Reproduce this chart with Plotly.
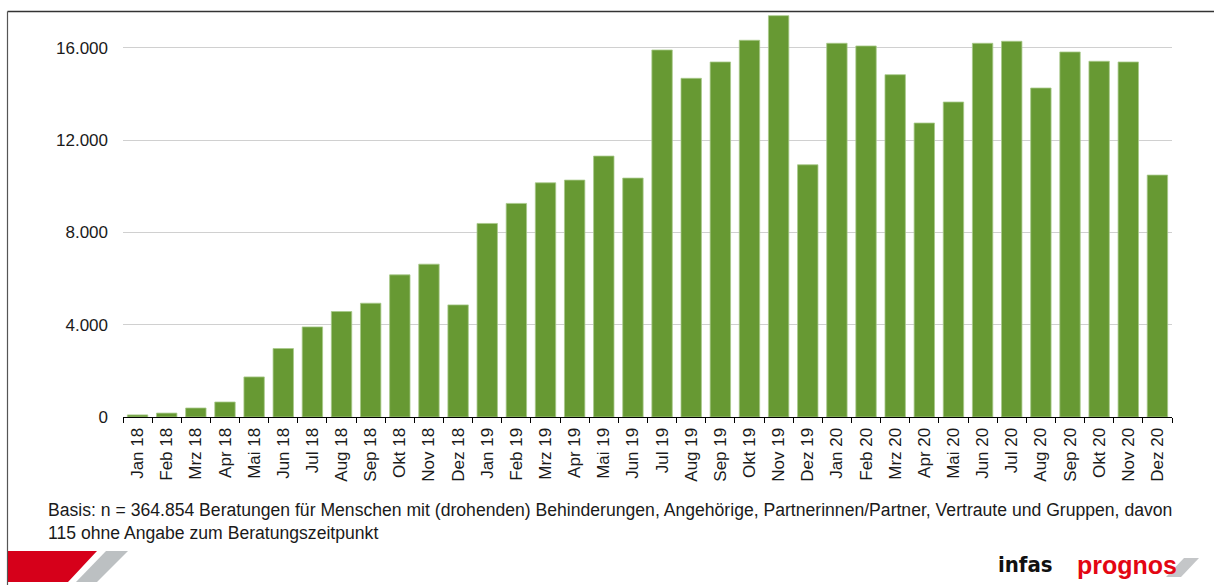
import plotly.graph_objects as go

months = ["Jan 18", "Feb 18", "Mrz 18", "Apr 18", "Mai 18", "Jun 18", "Jul 18", "Aug 18",
          "Sep 18", "Okt 18", "Nov 18", "Dez 18",
          "Jan 19", "Feb 19", "Mrz 19", "Apr 19", "Mai 19", "Jun 19", "Jul 19", "Aug 19",
          "Sep 19", "Okt 19", "Nov 19", "Dez 19",
          "Jan 20", "Feb 20", "Mrz 20", "Apr 20", "Mai 20", "Jun 20", "Jul 20", "Aug 20",
          "Sep 20", "Okt 20", "Nov 20", "Dez 20"]

beratungen = [90, 170, 390, 650, 1735, 2966, 3903, 4570, 4930, 6158, 6622, 4857,
              8386, 9254, 10147, 10264, 11305, 10351, 15902, 14674, 15382, 16322, 17389, 10928,
              16192, 16075, 14831, 12736, 13647, 16192, 16279, 14254, 15815, 15412, 15382, 10481]

y_ticks = [0, 4000, 8000, 12000, 16000]

footnote_1 = ("Basis: n = 364.854 Beratungen für Menschen mit (drohenden) Behinderungen, "
              "Angehörige, Partnerinnen/Partner, Vertraute und Gruppen, davon")
footnote_2 = "115 ohne Angabe zum Beratungszeitpunkt"

W, H = 1214, 585
ML, MR, MT, MB = 123, 42, 12, 168
PW, PH = W - ML - MR, H - MT - MB


def px(x):
    return (x - ML) / PW


def py(y):
    return (H - MB - y) / PH


FONT = "Liberation Sans, Arial, sans-serif"

fig = go.Figure()
fig.add_trace(go.Bar(
    x=months, y=beratungen,
    marker=dict(color="#679933", line=dict(color="#a8c98a", width=0.8)),
    hoverinfo="x+y",
))

shapes = [
    # frame lines
    dict(type="line", xref="paper", yref="paper", x0=px(7.5), x1=px(1214), y0=py(11.5), y1=py(11.5),
         line=dict(color="#333333", width=1.5)),
    dict(type="line", xref="paper", yref="paper", x0=px(7.5), x1=px(7.5), y0=py(11.5), y1=py(585),
         line=dict(color="#555555", width=1.2)),
    # red / grey logo bars bottom-left
    dict(type="path", xref="paper", yref="paper",
         path=f"M {px(8)} {py(551)} L {px(97)} {py(551)} L {px(68)} {py(582)} L {px(8)} {py(582)} Z",
         fillcolor="#d6001a", line=dict(width=0)),
    dict(type="path", xref="paper", yref="paper",
         path=f"M {px(106)} {py(551)} L {px(128)} {py(551)} L {px(97)} {py(582)} L {px(76)} {py(582)} Z",
         fillcolor="#bcc0c2", line=dict(width=0)),
    # prognos slash
    dict(type="path", xref="paper", yref="paper",
         path=f"M {px(1184)} {py(558)} L {px(1199)} {py(558)} L {px(1181)} {py(577)} L {px(1166)} {py(577)} Z",
         fillcolor="#c4c6c8", line=dict(width=0), layer="below"),
]

annotations = [
    dict(text=footnote_1, xref="paper", yref="paper", x=px(46), y=py(510), xanchor="left",
         yanchor="middle", showarrow=False, font=dict(family=FONT, size=17.6, color="#1a1a1a")),
    dict(text=footnote_2, xref="paper", yref="paper", x=px(46), y=py(533), xanchor="left",
         yanchor="middle", showarrow=False, font=dict(family=FONT, size=17.6, color="#1a1a1a")),
    dict(text="<b>infas</b>", xref="paper", yref="paper", x=px(996), y=py(564), xanchor="left",
         yanchor="middle", showarrow=False,
         font=dict(family="DejaVu Sans Condensed, Liberation Sans Narrow, sans-serif", size=22,
                   color="#111111")),
    dict(text="<b>prognos</b>", xref="paper", yref="paper", x=px(1075), y=py(565), xanchor="left",
         yanchor="middle", showarrow=False,
         font=dict(family=FONT, size=25, color="#e30613")),
]

fig.update_layout(
    width=W, height=H,
    margin=dict(l=ML, r=MR, t=MT, b=MB, autoexpand=False),
    paper_bgcolor="white", plot_bgcolor="white",
    bargap=0.30,
    separators=",.",
    showlegend=False,
    font=dict(family=FONT, size=17, color="#1a1a1a"),
    shapes=shapes,
    annotations=annotations,
)
fig.update_xaxes(
    type="category", showline=True, linecolor="#000000", linewidth=1,
    ticks="outside", tickson="boundaries", ticklen=5, tickcolor="#000000", tickwidth=1,
    tickangle=-90, showgrid=False, automargin=False, ticklabelstandoff=3,
    tickfont=dict(family=FONT, size=17, color="#1a1a1a"),
)
fig.update_yaxes(
    range=[0, 17547], tickvals=y_ticks, tickformat=",d",
    showgrid=True, gridcolor="#d0d0d0", gridwidth=1, zeroline=False, showline=False,
    ticks="", ticklabelstandoff=14, automargin=False,
    tickfont=dict(family=FONT, size=17, color="#1a1a1a"),
)

fig.write_html(
    "out.html",
    config={"displayModeBar": False},
    post_script="document.body.style.margin='0';document.body.style.overflow='hidden';",
)
